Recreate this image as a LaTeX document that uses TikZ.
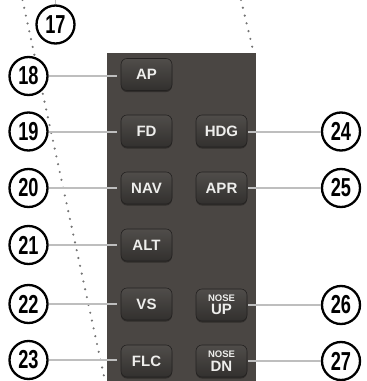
\documentclass[tikz,border=0pt]{standalone}
\usepackage{fontspec}
\setmainfont{Liberation Sans}
\usetikzlibrary{shadows}
\definecolor{panelc}{RGB}{74,70,67}
\definecolor{btop}{RGB}{80,77,74}
\definecolor{bbot}{RGB}{50,48,46}
\definecolor{bedge}{RGB}{36,34,33}
\definecolor{btext}{RGB}{238,238,236}
\definecolor{leadc}{RGB}{190,190,190}
\definecolor{dotc}{RGB}{115,115,115}
\tikzset{
  callout/.style={circle, draw=black, line width=2.3pt, fill=white, minimum size=38pt, inner sep=0pt,
    font=\bfseries\fontsize{26}{26}\selectfont},
  btn/.style={rectangle, rounded corners=6pt, minimum width=51pt, minimum height=32pt, inner sep=0pt,
    draw=bedge, line width=0.6pt, top color=btop, bottom color=bbot, text=btext,
    font=\bfseries\fontsize{15}{16}\selectfont,
    drop shadow={shadow xshift=0pt, shadow yshift=-1.5pt, opacity=0.35, fill=black}},
  leader/.style={draw=leadc, line width=2pt},
  dotline/.style={draw=dotc, line width=2.4pt, line cap=round, dash pattern=on 0pt off 8pt},
}
\newcommand{\cnum}[1]{\scalebox{0.7}[1]{#1}}
\newcommand{\nose}{{\fontsize{9.5}{9.5}\selectfont NOSE}}
\begin{document}
\begin{tikzpicture}[x=1pt,y=-1pt]
\useasboundingbox (0,0) rectangle (367,381);
% dotted lines
\coordinate (dl1) at (22.5,0);
\coordinate (dl2) at (105,381);
\coordinate (dr1) at (241,0);
\coordinate (dr2) at (253.5,52);
\draw[dotline] (dl1) -- (dl2);
\draw[dotline] (dr1) -- (dr2);
% panel
\node[rectangle, fill=panelc, minimum width=149pt, minimum height=330pt, inner sep=0pt, anchor=north west] (panel) at (107,53) {};
% buttons
\node[btn] (ap) at (146.5,74.5) {AP};
\node[btn] (fd) at (146.5,131) {FD};
\node[btn] (nav) at (146.5,188) {NAV};
\node[btn] (alt) at (146.5,245) {ALT};
\node[btn] (vs) at (146.5,304) {VS};
\node[btn] (flc) at (146.5,361) {FLC};
\node[btn] (hdg) at (221.5,131) {HDG};
\node[btn] (apr) at (221.5,188) {APR};
\node[btn, align=center] (up) at (221.5,305) {\nose\\[-2.5pt]UP};
\node[btn, align=center] (dn) at (221.5,361) {\nose\\[-2.5pt]DN};
% callouts
\node[callout] (c17) at (55.5,24.5) {\cnum{17}};
\node[callout] (c18) at (28.5,76) {\cnum{18}};
\node[callout] (c19) at (28.5,131.5) {\cnum{19}};
\node[callout] (c20) at (28.5,188) {\cnum{20}};
\node[callout] (c21) at (28.5,245) {\cnum{21}};
\node[callout] (c22) at (28.5,304) {\cnum{22}};
\node[callout] (c23) at (28.5,360) {\cnum{23}};
\node[callout] (c24) at (341,131.5) {\cnum{24}};
\node[callout] (c25) at (341,188) {\cnum{25}};
\node[callout] (c26) at (341,305) {\cnum{26}};
\node[callout] (c27) at (341,361) {\cnum{27}};
% leaders
\coordinate (t17) at (55.5,0);
\draw[leader, line width=1pt] (c17.north) -- (t17);
\draw[leader, shorten >=4pt] (c18.east) -- (c18.east -| ap.west);
\draw[leader, shorten >=4pt] (c19.east) -- (c19.east -| fd.west);
\draw[leader, shorten >=4pt] (c20.east) -- (c20.east -| nav.west);
\draw[leader, shorten >=4pt] (c21.east) -- (c21.east -| alt.west);
\draw[leader, shorten >=4pt] (c22.east) -- (c22.east -| vs.west);
\draw[leader, shorten >=4pt] (c23.east) -- (c23.east -| flc.west);
\draw[leader, shorten >=1pt] (c24.west) -- (c24.west -| hdg.east);
\draw[leader, shorten >=1pt] (c25.west) -- (c25.west -| apr.east);
\draw[leader, shorten >=1pt] (c26.west) -- (c26.west -| up.east);
\draw[leader, shorten >=1pt] (c27.west) -- (c27.west -| dn.east);
\end{tikzpicture}
\end{document}
